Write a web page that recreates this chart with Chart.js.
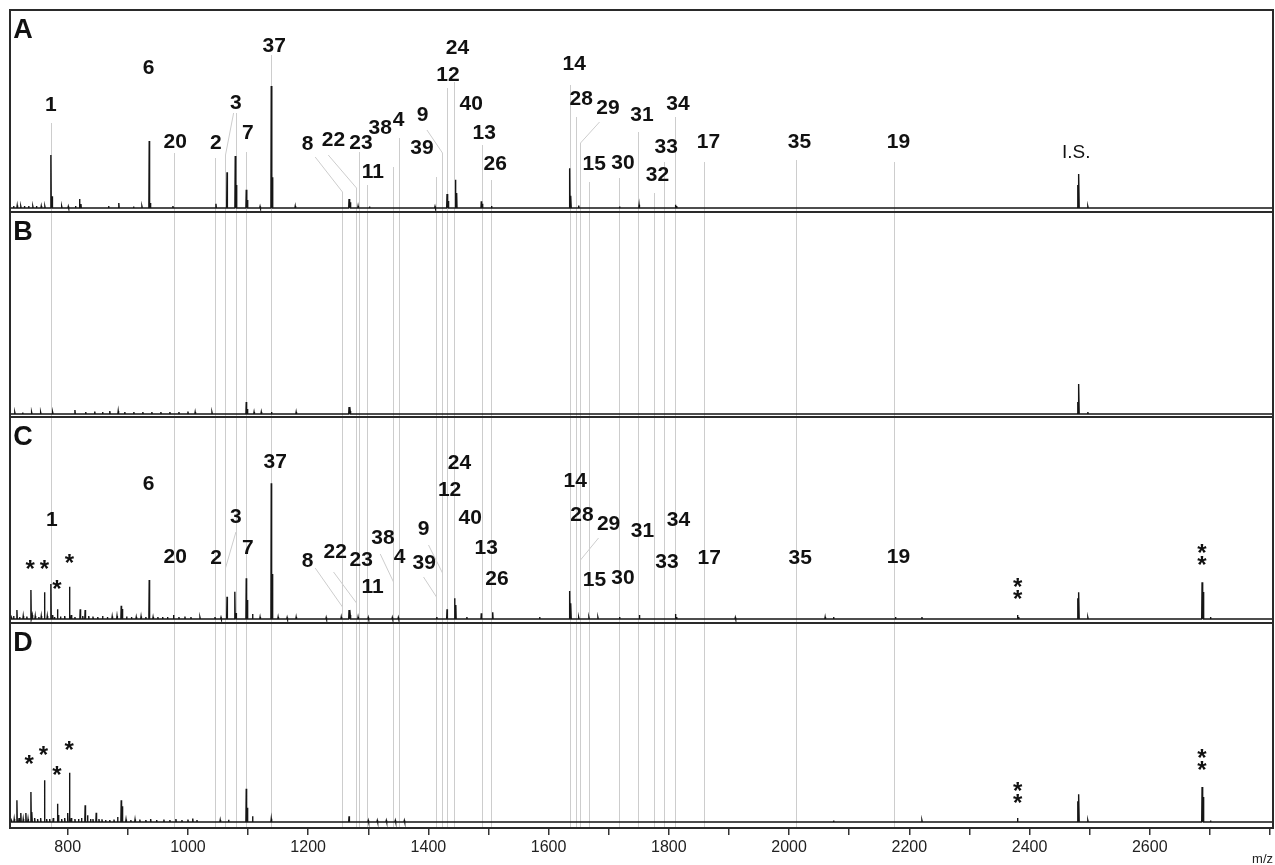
<!DOCTYPE html>
<html><head><meta charset="utf-8">
<script src="https://cdn.jsdelivr.net/npm/chart.js@4.4.1/dist/chart.umd.min.js"></script>
<style>
html,body{margin:0;padding:0;background:#fff;}
#wrap{position:relative;width:1275px;height:865px;overflow:hidden;}
canvas{position:absolute;left:0;top:0;}
</style></head><body><div id="wrap">
<canvas id="cA" width="1275" height="865"></canvas>
<canvas id="cB" width="1275" height="865"></canvas>
<canvas id="cC" width="1275" height="865"></canvas>
<canvas id="cD" width="1275" height="865"></canvas>
</div>
<script>
// ---------- axis ----------
const X_MIN = 704, X_MAX = 2805;
const tickValues = [800, 900, 1000, 1100, 1200, 1300, 1400, 1500, 1600, 1700, 1800, 1900, 2000, 2100, 2200, 2300, 2400, 2500, 2600, 2700, 2800];
const tickLabels = [800, 1000, 1200, 1400, 1600, 1800, 2000, 2200, 2400, 2600];

// ---------- guide lines (m/z of annotated peaks) ----------
const lineNames = ['1','20','2','3a','3b','7','37','8','22','23','11','38','4','39','9','12','24','13','26','14','28','29','15','30','31','32','33','34','17','35','19'];
const lineMz = [772,976,1045,1062,1079.5,1097,1139,1256,1280,1285,1298,1341,1351.5,1413,1422.5,1431,1443,1489,1504.5,1636,1645,1652,1667,1717.5,1749,1775.5,1791.5,1810,1859,2012,2175];
const lineTopA = [85,55,50,53,95,56,153,16,20,56,23,41,70,31,55,120,126,63,28,123,91,65,26,30,76,15,46,91,46,48,46];

// ---------- panel A spectrum ----------
const peaksA_mz = [710,716,722,728,735,742,748,756,762,772,774,790,801,813,819.7,822,868,885,909.5,923.5,935.6,937.6,975,1046.6,1065,1078.7,1080.5,1097,1098.8,1120,1138.6,1140.4,1178.5,1268,1270,1283,1302,1411,1431,1433,1445,1447,1488,1490,1505,1635,1637,1650,1718,1750.5,1811,1813,2480.3,2482,2497];
const peaksA_h  = [2,2.5,1.5,2,2,1.5,2,2,1.5,53,11.7,1.5,1.5,2,9,4,2,5,1.5,1.5,67,5,2,4.3,35.7,52,23,18.3,8,1.5,122,30.7,2,9,5.7,2,1.5,1.5,14,7,28.3,15,6.7,4.3,2,39.7,12.3,2.5,1.5,3.3,3.3,2,23,34,1.5];

// ---------- panel B spectrum ----------
const peaksB_mz = [712,725,740,755,775,812,830,845,858,870,884,895,910,925,940,955,970,985,1000,1012,1040,1097,1099,1110,1122,1139,1180,1268,1270,2480.3,2482,2497];
const peaksB_h  = [1.5,1.5,1.5,1.5,1.5,4,2,2.5,2,3,3,2,2,2,2,2,2,2,2.5,2,1.5,12,5,2,2,2,2,7,3,12,30,2];

// ---------- panel C spectrum ----------
const peaksC_mz = [706,710,715.5,720,726,732,738.8,741,746,752,756,761.4,766,772,775,778,783,788,795,803,806,812,820.8,825,829,835,842,850,858,866,874,882,889,891,898,906,914,922,930,935.6,942,950,958,966,976,985,995,1005,1020,1045,1055,1065,1078,1080,1097,1099,1107.5,1120,1138.6,1140.6,1150,1165,1180,1230,1255,1268,1270,1283,1300,1340,1350,1414,1431,1443.6,1445.6,1464,1488,1507,1585,1635,1637,1650,1667,1682,1718,1751,1811,1813,1910.6,2060,2074,2177,2221,2380,2382,2480.3,2482,2497,2687,2689,2701];
const peaksC_h  = [2,3,9,2,3,2.5,29,4,3,2,3,26.7,3,35,4,2,9.7,2.5,3,32.3,4,2,9.7,3,9,3,2.5,2,3,2,2.5,3,13.3,10,2.5,2,2,2.5,2,39,2,2,2,2,4,2,2.5,2,1.5,2,1.5,22.3,27.3,6,40.7,19,5,2,135.7,45,2,1.5,2,1.5,2,9,4,2,1.5,1.5,1.5,2,9.7,20.7,14,2,5.7,6.7,2,28,15.7,1.5,1.5,1.5,2,4,5,2,1.5,2,2,2,2,4,2,20.7,26.7,1.5,36.7,27,2];

// ---------- panel D spectrum ----------
const peaksD_mz = [706,711,715.5,719,722,726,730.4,734,738.8,740.5,745,750,755,761.4,765,770,776,783,784.7,790,795,800,803,806,812,818,823,829,833,838,842,847.4,852,857,863,870,877,883,889,891,897,905,912,920,930,938,948,960,970,980,990,1000,1008,1015,1053.7,1067.6,1097,1099,1107.5,1138.6,1268,1300,1315,1330,1345,1360,2074,2221,2380,2480.3,2482,2497,2687,2689,2701];
const peaksD_h  = [2,3,21.7,4,9,3,9,3,30,10,4,3,4,41.7,3,3,4,18.3,7,3,4,9,49.3,4,3,3,4,16.7,6.7,3,3,9.3,3,2.7,2,2,2.5,5,21.7,15.7,2.5,2,2.5,2.5,2,3,2,2.5,2,3,2,2.5,3.5,2,2,2.3,33.3,14.3,5.7,3.3,5.7,1.5,1.5,1.5,1.5,1.5,1.5,1.5,4,20.7,27.7,1.5,35,25,1.5];

// ---------- annotations ----------
const labelA_text = ['1','6','20','2','3','7','37','8','22','23','11','38','4','39','9','24','12','40','13','26','14','28','29','15','30','31','34','33','32','17','35','19'];
const labelA_mz = [772.1,934.4,978.8,1046.5,1079.8,1099.8,1143.5,1198.9,1242.2,1287.8,1307.7,1319.9,1350.3,1389.2,1390.2,1448.5,1432.5,1471.3,1492.9,1511.2,1642.6,1654.3,1698.7,1675.9,1723.6,1755.2,1815.1,1795.7,1781.2,1866,2017.4,2182.1];
const labelA_y = [103,140,66,65,105,75,162,64,68,65,36,80,88,60,93,160,133,104,75,44,144,109,100,44,45,93,104,61,33,66,66,66];
const isLabel = {text: 'I.S.', mz: 2477.7, y: 55};

const leaderA_line = ['3a','8','22','9','29'];
const leaderA_fromMz = [1076,1211.7,1233.4,1397.6,1684.7];
const leaderA_fromY = [95,51,53,78,86];
const leaderA_toY = [53,16,20,55,65];

const labelC_text = ['1','6','20','2','3','7','37','8','22','23','11','38','4','9','39','24','12','40','13','26','14','28','29','15','30','31','34','33','17','35','19'];
const labelC_mz = [773.7,934.4,978.8,1047,1079.8,1099.8,1145.2,1198.9,1245,1288.3,1307,1324.4,1352,1391.9,1393.1,1451.8,1435.2,1469.6,1496.2,1514,1644.3,1655.4,1699.7,1676.4,1723.6,1756.2,1816.1,1796.8,1867.2,2018.6,2182.1];
const labelC_y = [99,135,62,61,102,71,157,58,67,59,32,81,62,90,56,156,129,101,71,40,138,104,95,39,41,88,99,57,61,61,62];

const leaderC_line = ['3a','8','22','38','39','9','29'];
const leaderC_fromMz = [1079.8,1211.7,1242.2,1319.9,1391.9,1400.2,1683];
const leaderC_fromY = [87,51,47,65,42,74,81];
const leaderC_toY = [51,12,16,37,22,46,59];

const starC_mz = [737.6,761.4,803,782,2380.1,2380.1,2686.9,2686.9];
const starC_y = [56,56,62,36,38,26,72,60];
const starD_mz = [736,759.7,782,802.5,2380.1,2380.1,2686.9,2686.9];
const starD_y = [64,73,53,78,37,25,70,58];

// ---------- helpers ----------
function spectrum(mz, h) {
  const idx = mz.map((m, i) => i).sort((a, b) => mz[a] - mz[b]);
  const pts = [{x: X_MIN, y: 0}];
  idx.forEach(i => {
    pts.push({x: mz[i] - 0.6, y: 0}, {x: mz[i], y: h[i]}, {x: mz[i] + 0.6, y: 0});
  });
  pts.push({x: X_MAX, y: 0});
  return pts;
}

const FONT = '"Liberation Sans", Arial, Helvetica, sans-serif';

function makePanelPlugin(p) {
  return {
    id: 'panel' + p.letter,
    beforeDatasetsDraw(chart) {
      const {ctx, chartArea: a, scales: {x, y}} = chart;
      ctx.save();
      ctx.beginPath();
      ctx.rect(a.left, a.top, a.right - a.left, a.bottom - a.top);
      ctx.clip();
      ctx.strokeStyle = '#cdcdcd';
      ctx.lineWidth = 1;
      lineMz.forEach((m, i) => {
        const px = Math.round(x.getPixelForValue(m)) + 0.5;
        const top = p.lineTop ? y.getPixelForValue(p.lineTop[i]) : a.top;
        ctx.beginPath();
        ctx.moveTo(px, top);
        ctx.lineTo(px, a.bottom);
        ctx.stroke();
      });
      if (p.leaders) {
        const L = p.leaders;
        L.line.forEach((name, i) => {
          const li = lineNames.indexOf(name);
          ctx.beginPath();
          ctx.moveTo(x.getPixelForValue(L.fromMz[i]), y.getPixelForValue(L.fromY[i]));
          ctx.lineTo(Math.round(x.getPixelForValue(lineMz[li])) + 0.5, y.getPixelForValue(L.toY[i]));
          ctx.stroke();
        });
      }
      ctx.restore();
    },
    afterDatasetsDraw(chart) {
      const {ctx, chartArea: a, scales: {x, y}} = chart;
      ctx.save();
      ctx.fillStyle = '#111';
      ctx.textAlign = 'center';
      ctx.textBaseline = 'middle';
      if (p.labels) {
        ctx.font = 'bold 21px ' + FONT;
        p.labels.text.forEach((t, i) => {
          ctx.fillText(t, x.getPixelForValue(p.labels.mz[i]), y.getPixelForValue(p.labels.y[i]));
        });
      }
      if (p.showIS) {
        ctx.font = '19px ' + FONT;
        ctx.fillText(isLabel.text, x.getPixelForValue(isLabel.mz), y.getPixelForValue(isLabel.y));
      }
      if (p.stars) {
        const fs = 24;
        ctx.font = 'bold ' + fs + 'px ' + FONT;
        ctx.textBaseline = 'alphabetic';
        p.stars.mz.forEach((m, i) => {
          ctx.fillText('*', x.getPixelForValue(m), y.getPixelForValue(p.stars.y[i]) + 0.57 * fs);
        });
      }
      // panel letter
      ctx.font = 'bold 27px ' + FONT;
      ctx.textAlign = 'center';
      ctx.textBaseline = 'middle';
      ctx.fillText(p.letter, a.left + 13, a.top + 21);
      // frame
      ctx.strokeStyle = '#2a2a2a';
      ctx.lineWidth = 2;
      ctx.strokeRect(a.left, a.top, a.right - a.left, a.bottom - a.top);
      ctx.restore();
    }
  };
}

const panels = [
  {id: 'cA', letter: 'A', top: 10, bottom: 212, yMin: -4, yMax: 198, mz: peaksA_mz, h: peaksA_h,
   lineTop: lineTopA,
   labels: {text: labelA_text, mz: labelA_mz, y: labelA_y},
   leaders: {line: leaderA_line, fromMz: leaderA_fromMz, fromY: leaderA_fromY, toY: leaderA_toY},
   showIS: true},
  {id: 'cB', letter: 'B', top: 212, bottom: 417, yMin: -3, yMax: 202, mz: peaksB_mz, h: peaksB_h},
  {id: 'cC', letter: 'C', top: 417, bottom: 623, yMin: -4, yMax: 202, mz: peaksC_mz, h: peaksC_h,
   labels: {text: labelC_text, mz: labelC_mz, y: labelC_y},
   leaders: {line: leaderC_line, fromMz: leaderC_fromMz, fromY: leaderC_fromY, toY: leaderC_toY},
   stars: {mz: starC_mz, y: starC_y}},
  {id: 'cD', letter: 'D', top: 623, bottom: 828, yMin: -6, yMax: 199, mz: peaksD_mz, h: peaksD_h,
   stars: {mz: starD_mz, y: starD_y}, axis: true}
];

panels.forEach(p => {
  const xScale = {
    type: 'linear', min: X_MIN, max: X_MAX, display: !!p.axis,
    border: {display: false},
    grid: {display: true, drawOnChartArea: false, drawTicks: true, tickLength: 7, color: '#333', lineWidth: 1.5},
    ticks: {
      autoSkip: false, maxRotation: 0, padding: 3,
      color: '#222', font: {family: FONT, size: 16},
      callback: v => tickLabels.includes(Math.round(v)) ? String(Math.round(v)) : ''
    },
    title: {display: true, text: 'm/z', align: 'end', color: '#222',
            font: {family: FONT, size: 13}, padding: {top: 0, bottom: -2}}
  };
  if (p.axis) {
    xScale.afterBuildTicks = s => { s.ticks = tickValues.map(v => ({value: v})); };
    xScale.afterFit = s => { s.height = 37; };
  }
  new Chart(document.getElementById(p.id), {
    type: 'line',
    data: {
      datasets: [{
        data: spectrum(p.mz, p.h),
        borderColor: '#151515',
        borderWidth: 1.4,
        pointRadius: 0,
        tension: 0,
        fill: false
      }]
    },
    options: {
      responsive: false,
      animation: false,
      events: [],
      layout: {padding: {left: 10, right: 2, top: p.top, bottom: p.axis ? 0 : 865 - p.bottom}},
      plugins: {legend: {display: false}, tooltip: {enabled: false}, title: {display: false}},
      scales: {
        x: xScale,
        y: {type: 'linear', min: p.yMin, max: p.yMax, display: false}
      }
    },
    plugins: [makePanelPlugin(p)]
  });
});
</script>
</body></html>
